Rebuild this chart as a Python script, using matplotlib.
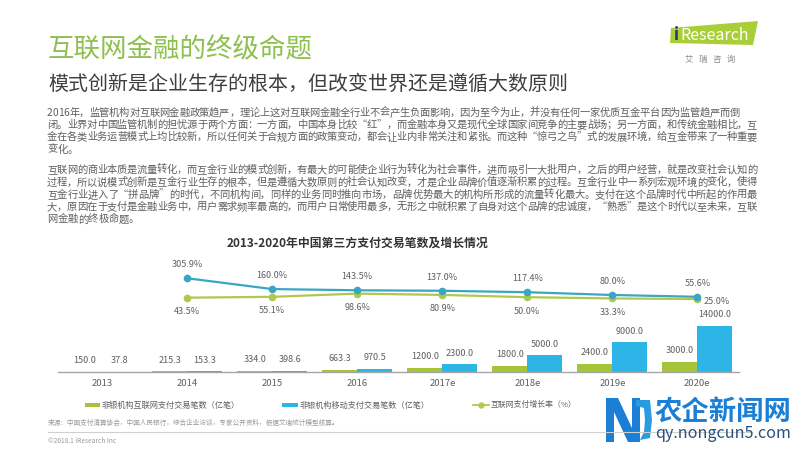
import matplotlib
matplotlib.use("Agg")
import matplotlib.pyplot as plt
from matplotlib.patches import Polygon, Rectangle
from matplotlib.lines import Line2D
import numpy as np

plt.rcParams['font.family'] = ['Noto Sans CJK SC', 'DejaVu Sans']

# ---------------- data ----------------
years = ["2013", "2014", "2015", "2016", "2017e", "2018e", "2019e", "2020e"]
internet_tx = [150.0, 215.3, 334.0, 663.3, 1200.0, 1800.0, 2400.0, 3000.0]
mobile_tx = [37.8, 153.3, 398.6, 970.5, 2300.0, 5000.0, 9000.0, 14000.0]
growth_years = ["2014", "2015", "2016", "2017e", "2018e", "2019e", "2020e"]
mobile_growth = [305.9, 160.0, 143.5, 137.0, 117.4, 80.0, 55.6]
internet_growth = [43.5, 55.1, 98.6, 80.9, 50.0, 33.3, 25.0]

title = "互联网金融的终级命题"
subtitle = "模式创新是企业生存的根本，但改变世界还是遵循大数原则"
chart_title = "2013-2020年中国第三方支付交易笔数及增长情况"
legend_labels = ["非银机构互联网支付交易笔数（亿笔）", "非银机构移动支付交易笔数（亿笔）", "互联网支付增长率（%）"]
paragraph = [
    "2016年，监管机构对互联网金融政策趋严，理论上这对互联网金融全行业不会产生负面影响，因为至今为止，并没有任何一家优质互金平台因为监管趋严而倒",
    "闭。业界对中国监管机制的担忧源于两个方面：一方面，中国本身比较“红”，而金融本身又是现代全球国家间竞争的主要战场；另一方面，和传统金融相比，互",
    "金在各类业务运营模式上均比较新，所以任何关于合规方面的政策变动，都会让业内非常关注和紧张。而这种“惊弓之鸟”式的发展环境，给互金带来了一种重要",
    "变化。",
    "互联网的商业本质是流量转化，而互金行业的模式创新，有最大的可能使企业行为转化为社会事件，进而吸引一大批用户，之后的用户经营，就是改变社会认知的",
    "过程，所以说模式创新是互金行业生存的根本，但是遵循大数原则的社会认知改变，才是企业品牌价值逐渐积累的过程。互金行业中一系列宏观环境的变化，使得",
    "互金行业进入了“拼品牌”的时代，不同机构间，同样的业务同时推向市场，品牌优势最大的机构所形成的流量转化最大。支付在这个品牌时代中所起的作用最",
    "大，原因在于支付是金融业务中，用户需求频率最高的，而用户日常使用最多，无形之中就积累了自身对这个品牌的忠诚度，“熟悉”是这个时代以至未来，互联",
    "网金融的终极命题。",
]
source_note = "来源：中国支付清算协会，中国人民银行，综合企业访谈，专家公开资料，根据艾瑞统计模型核算。"
copyright_note = "©2018.1 iResearch Inc"

# ---------------- style ----------------
W, H = 800, 450
GREEN_BAR = "#a5c43a"
BLUE_BAR = "#2cb5e6"
BLUE_LINE = "#3aa6c2"
GREEN_LINE = "#b0c84e"
TXT = "#5f5f5f"

fig = plt.figure(figsize=(8, 4.5), dpi=100)
fig.patch.set_facecolor("white")
renderer = fig.canvas.get_renderer()


def P(x, y):
    return (x / W, 1 - y / H)


def ftext(x, y, s, **kw):
    return fig.text(*P(x, y), s, **kw)


def text_width(t):
    return t.get_window_extent(renderer=renderer).width


def fit_text(x0, x1, y, s, fontsize, **kw):
    """Left-aligned text whose font size is tuned so it spans x0..x1 pixels."""
    t = ftext(x0, y, s, fontsize=fontsize, va="center", ha="left", **kw)
    w = text_width(t)
    if w > 0:
        t.set_fontsize(fontsize * (x1 - x0) / w)
    return t


def justify_line(x0, x1, y_center, s, fontsize, **kw):
    """Draw a line character by character (common baseline), spread to span x0..x1 pixels."""
    widths = []
    for ch in s:
        t = ftext(0, 0, ch, fontsize=fontsize, **kw)
        widths.append(text_width(t))
        t.remove()
    total = sum(widths)
    extra = (x1 - x0 - total) / (len(s) - 1) if (x1 is not None and len(s) > 1) else 0.0
    y_base = y_center + fontsize * 100 / 72 * 0.36
    pos = x0
    for ch, w in zip(s, widths):
        ftext(pos, y_base, ch, fontsize=fontsize, va="baseline", ha="left", **kw)
        pos += w + extra


# header
fit_text(48, 313, 50, title, 19, color="#8dc04f", fontweight="light")
fit_text(48, 567, 84, subtitle, 14.4, color="#3f3f3f")

# iResearch logo
logo = Polygon([P(671, 28), P(758, 21), P(753, 45), P(670, 43)], closed=True,
               transform=fig.transFigure, facecolor="#a9cf38", edgecolor="none")
fig.patches.append(logo)
ftext(674, 35, "i", fontsize=12, color="#1f3b66", va="center", ha="left", fontweight="bold")
ftext(680, 35, "Research", fontsize=11.5, color="white", va="center", ha="left")
ftext(710, 59, "艾   瑞   咨   询", fontsize=6, color="#8a8a8a", va="center", ha="center")

# paragraph
para_y = [112, 124.3, 136.6, 148.9, 169.5, 181.8, 194.1, 206.4, 218.7]
para_right = [740, 757, 757, None, 757, 757, 757, 757, None]
for s, y, xr in zip(paragraph, para_y, para_right):
    justify_line(47, xr, y, s, 7.4, color=TXT)

# chart title
fit_text(227, 487, 243, chart_title, 8.6, color="#333333", fontweight="bold")

# ---------------- chart ----------------
ax = fig.add_axes([58 / W, 78 / H, 681 / W, 102 / H])
ax.set_xlim(-0.52, 7.49)
ax.set_ylim(0, 30840)
x = np.arange(len(years))
bw = 0.41
ax.bar(x - bw / 2, internet_tx, bw, color=GREEN_BAR, zorder=2)
ax.bar(x + bw / 2, mobile_tx, bw, color=BLUE_BAR, zorder=2)
for xi, v in zip(x, internet_tx):
    ax.annotate(f"{v:.1f}", (xi - bw / 2, v), xytext=(0, 8), textcoords="offset points",
                ha="center", va="center", fontsize=6.5, color=TXT)
for xi, v in zip(x, mobile_tx):
    ax.annotate(f"{v:.1f}", (xi + bw / 2, v), xytext=(0, 8), textcoords="offset points",
                ha="center", va="center", fontsize=6.5, color=TXT)

for sp in ["top", "right", "left"]:
    ax.spines[sp].set_visible(False)
ax.spines["bottom"].set_color("#a6a6a6")
ax.spines["bottom"].set_linewidth(1.0)
ax.set_yticks([])
ax.set_xticks(x)
ax.set_xticklabels(years)
ax.tick_params(axis="x", length=0, pad=5, labelsize=6.8, labelcolor=TXT)
ax.patch.set_alpha(0)

ax2 = ax.twinx()
ax2.set_ylim(-960.8, 417.6)
ax2.axis("off")
gx = np.array([years.index(g) for g in growth_years])
ax2.plot(gx, internet_growth, color=GREEN_LINE, lw=1.6, marker="o", ms=4.5, zorder=3)
ax2.plot(gx, mobile_growth, color=BLUE_LINE, lw=1.6, marker="o", ms=4.5, zorder=4)
for xi, v in zip(gx, mobile_growth):
    ax2.annotate(f"{v:.1f}%", (xi, v), xytext=(0, 9.8), textcoords="offset points",
                 ha="center", va="center", fontsize=6.5, color=TXT)
for i, (xi, v) in enumerate(zip(gx, internet_growth)):
    if i == len(gx) - 1:
        ax2.annotate(f"{v:.1f}%", (xi, v), xytext=(14, -1.5), textcoords="offset points",
                     ha="center", va="center", fontsize=6.5, color=TXT)
    else:
        ax2.annotate(f"{v:.1f}%", (xi, v), xytext=(0, -10), textcoords="offset points",
                     ha="center", va="center", fontsize=6.5, color=TXT)

# ---------------- legend ----------------
fig.patches.append(Rectangle(P(85, 407), 15 / W, 4 / H, transform=fig.transFigure,
                             facecolor=GREEN_BAR, edgecolor="none"))
fit_text(102, 242, 405, legend_labels[0], 6, color=TXT)
fig.patches.append(Rectangle(P(282, 407), 16 / W, 4 / H, transform=fig.transFigure,
                             facecolor=BLUE_BAR, edgecolor="none"))
fit_text(300, 430, 405, legend_labels[1], 6, color=TXT)
fig.lines.append(Line2D([473 / W, 489 / W], [1 - 405 / H] * 2, transform=fig.transFigure,
                        color=GREEN_LINE, lw=1.3))
fig.lines.append(Line2D([481 / W], [1 - 405 / H], transform=fig.transFigure,
                        color=GREEN_LINE, marker="o", ms=3.5))
fit_text(491, 577, 405, legend_labels[2], 6, color=TXT)

# footer
fit_text(48, 339, 423, source_note, 4.8, color="#9a9a9a")
fig.lines.append(Line2D([48 / W, 752 / W], [1 - 432 / H] * 2, transform=fig.transFigure,
                        color="#d0d0d0", lw=0.8))
ftext(48, 441, copyright_note, fontsize=4.8, color="#9a9a9a", va="center", ha="left")

# watermark
wm_blue = "#1c7fd6"
fig.patches.append(Polygon([P(606, 398), P(618, 398), P(632, 428), P(632, 398), P(640, 398),
                            P(640, 442), P(628, 442), P(614, 412), P(614, 442), P(606, 442)],
                           closed=True, transform=fig.transFigure, facecolor=wm_blue, edgecolor="none"))
fig.patches.append(Polygon([P(636, 400), P(650, 400), P(652, 420), P(650, 438), P(640, 440),
                            P(644, 432), P(645, 420), P(644, 408), P(636, 406)],
                           closed=True, transform=fig.transFigure, facecolor="#2a9be0", edgecolor="none"))
fit_text(655, 792, 413, "农企新闻网", 19.5, color=wm_blue, fontweight="bold")
fit_text(655, 790, 434, "qy.nongcun5.com", 11, color="#2b4f7e")

fig.savefig("out.png", dpi=100, facecolor="white")
